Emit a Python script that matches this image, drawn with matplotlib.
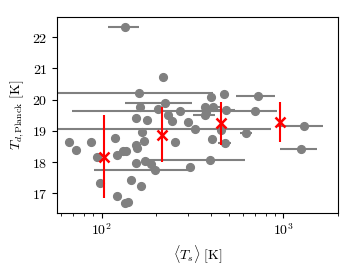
import numpy as np
import matplotlib
matplotlib.use("Agg")
import matplotlib.pyplot as plt
from matplotlib.ticker import FuncFormatter, LogLocator

plt.rcParams['mathtext.fontset'] = 'cm'
plt.rcParams['font.family'] = ['DejaVu Serif']

# gray points: mean surface temperature, Planck dust temperature, x error
T_s = [134, 218, 160, 224, 162, 269, 204, 155, 179, 232, 245, 299, 325, 166, 171,
       155, 157, 66, 72, 87, 94, 98, 118, 121, 131, 136, 121, 134, 139, 146, 165,
       154, 174, 188, 196, 308, 393, 253, 401, 470, 723, 369, 409, 377, 369, 484,
       702, 406, 475, 624, 1291, 1250, 454]
T_d = [22.34, 20.71, 20.22, 19.89, 19.77, 19.65, 19.70, 19.41, 19.36, 19.52, 19.32,
       19.27, 19.07, 18.98, 18.68, 18.55, 18.45, 18.66, 18.39, 18.66, 18.18, 17.33,
       18.77, 18.22, 18.35, 18.37, 16.91, 16.69, 16.73, 17.43, 17.23, 17.97, 18.05,
       17.93, 17.76, 17.84, 18.07, 18.63, 20.09, 20.19, 20.13, 19.78, 19.78, 19.62,
       19.52, 19.66, 19.64, 18.74, 18.61, 18.93, 19.17, 18.43, 19.04]
T_s_err = [26, 6, 248, 90, 5, 200, 5, 5, 5, 5, 5, 5, 534, 5, 5, 5, 5, 2, 2, 2, 3, 3,
           3, 3, 3, 3, 3, 3, 3, 3, 3, 3, 5, 5, 105, 8, 224, 5, 8, 8, 175, 10, 50, 10,
           52, 60, 220, 8, 40, 50, 360, 290, 10]

# binned (red) points
bin_T_s = [103.3, 216, 455, 963]
bin_T_d = [18.18, 18.87, 19.25, 19.28]
bin_T_d_err = [1.34, 0.88, 0.69, 0.65]

fig = plt.figure(figsize=(3.57, 2.68), dpi=100)
ax = fig.add_axes([0.160, 0.206, 0.787, 0.731])
ax.set_xscale('log')

ax.errorbar(T_s, T_d, xerr=T_s_err, fmt='o', color='gray', ms=5.6,
            elinewidth=1.5, capsize=0, zorder=2)
ax.errorbar(bin_T_s, bin_T_d, yerr=bin_T_d_err, fmt='x', color='red', ms=6.5,
            mew=1.8, elinewidth=1.5, capsize=0, zorder=3)

ax.set_xlim(57, 2000)
ax.set_ylim(16.38, 22.65)
ax.set_yticks([17, 18, 19, 20, 21, 22])
ax.yaxis.set_major_formatter(FuncFormatter(lambda v, p: r'$%d$' % round(v)))
ax.xaxis.set_major_locator(LogLocator(base=10))
ax.xaxis.set_major_formatter(FuncFormatter(lambda v, p: r'$10^{%d}$' % round(np.log10(v))))
ax.tick_params(which='both', direction='out', labelsize=10)
ax.tick_params(which='major', length=3.5)
ax.tick_params(which='minor', length=2.2)

ax.set_xlabel(r'$\langle T_s\rangle\ [\mathrm{K}]$', fontsize=10)
ax.set_ylabel(r'$T_{d,\mathrm{Planck}}\ [\mathrm{K}]$', fontsize=10)

fig.savefig('out.png', dpi=100)
